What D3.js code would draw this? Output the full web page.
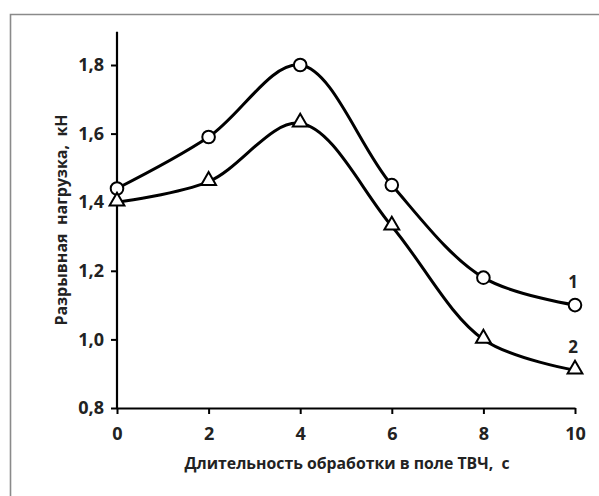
<!DOCTYPE html>
<html><head><meta charset="utf-8">
<script src="https://cdn.jsdelivr.net/npm/d3@7"></script>
<style>html,body{margin:0;padding:0;background:#fff;}svg{display:block;}</style>
</head><body>
<script>
const xValues = [0, 2, 4, 6, 8, 10];
const series1 = [1.44, 1.59, 1.80, 1.45, 1.18, 1.10];
const series2 = [1.40, 1.46, 1.63, 1.33, 1.00, 0.91];
const xTicks = [0, 2, 4, 6, 8, 10];
const yTicks = [0.8, 1.0, 1.2, 1.4, 1.6, 1.8];
const seriesLabels = ["1", "2"];
const xTitle = "Длительность обработки в поле ТВЧ,  с";
const yTitle = "Разрывная  нагрузка,  кН";

const W = 599, H = 496;
const svg = d3.select("body").append("svg").attr("width", W).attr("height", H);
const font = "'Open Sans', sans-serif";

// frame
svg.append("path").attr("d", `M10.5,${H} L10.5,14.5 L${W},14.5`)
  .attr("fill", "none").attr("stroke", "#8a8a8a").attr("stroke-width", 1.6);

const x = d3.scaleLinear().domain([0, 10]).range([117, 575]);
const y = d3.scaleLinear().domain([0.8, 1.8]).range([408, 65]);

// axes
const xAxis = svg.append("g").attr("transform", "translate(0,408)")
  .call(d3.axisBottom(x).tickValues(xTicks).tickSize(6).tickSizeOuter(0).tickFormat(d => d));
const yAxis = svg.append("g").attr("transform", "translate(117,0)")
  .call(d3.axisLeft(y).tickValues(yTicks).tickSize(6).tickSizeOuter(0).tickFormat(d => d3.format(".1f")(d).replace(".", ",")));
yAxis.select(".domain").attr("d", `M0,${y(1.897)}V408`);
[xAxis, yAxis].forEach(g => {
  g.attr("font-size", null).attr("font-family", null);
  g.select(".domain").attr("stroke", "#000").attr("stroke-width", 2.2);
  g.selectAll(".tick line").attr("stroke", "#000").attr("stroke-width", 2);
  g.selectAll(".tick text").attr("font-family", font).attr("font-weight", 700)
    .style("font-size", "18px").attr("fill", "#222");
});
xAxis.selectAll(".tick text").attr("dy", "0.71em").attr("y", 19);
yAxis.selectAll(".tick text").attr("x", -13);

// lines
const line = d3.line().x((d, i) => x(xValues[i])).y(d => y(d)).curve(d3.curveCatmullRom.alpha(0.5));
[series1, series2].forEach(s => {
  svg.append("path").attr("d", line(s)).attr("fill", "none")
    .attr("stroke", "#000").attr("stroke-width", 3);
});

// markers
svg.selectAll("circle.m").data(series1).enter().append("circle")
  .attr("cx", (d, i) => x(xValues[i])).attr("cy", d => y(d)).attr("r", 6.3)
  .attr("fill", "#fff").attr("stroke", "#000").attr("stroke-width", 2);
const tri = d3.symbol().type(d3.symbolTriangle).size(95);
svg.selectAll("path.t").data(series2).enter().append("path")
  .attr("d", tri).attr("transform", (d, i) => `translate(${x(xValues[i])},${y(d) - 1})`)
  .attr("fill", "#fff").attr("stroke", "#000").attr("stroke-width", 2);

// series labels
svg.append("text").attr("x", 573).attr("y", 282).attr("dy", "0.35em").attr("text-anchor", "middle")
  .attr("font-family", font).attr("font-weight", 700).style("font-size", "17px").attr("fill", "#222").text(seriesLabels[0]);
svg.append("text").attr("x", 573).attr("y", 347).attr("dy", "0.35em").attr("text-anchor", "middle")
  .attr("font-family", font).attr("font-weight", 700).style("font-size", "17px").attr("fill", "#222").text(seriesLabels[1]);

// titles
svg.append("text").attr("x", 347).attr("y", 463).attr("dy", "0.35em").attr("text-anchor", "middle")
  .attr("font-family", font).attr("font-weight", 700).style("font-size", "15.8px").attr("fill", "#222")
  .style("white-space", "pre").text(xTitle);
svg.append("text").attr("transform", "translate(61,220) rotate(-90)").attr("dy", "0.35em").attr("text-anchor", "middle")
  .attr("font-family", font).attr("font-weight", 700).style("font-size", "16px").attr("fill", "#222")
  .style("white-space", "pre").text(yTitle);
</script>
</body></html>
